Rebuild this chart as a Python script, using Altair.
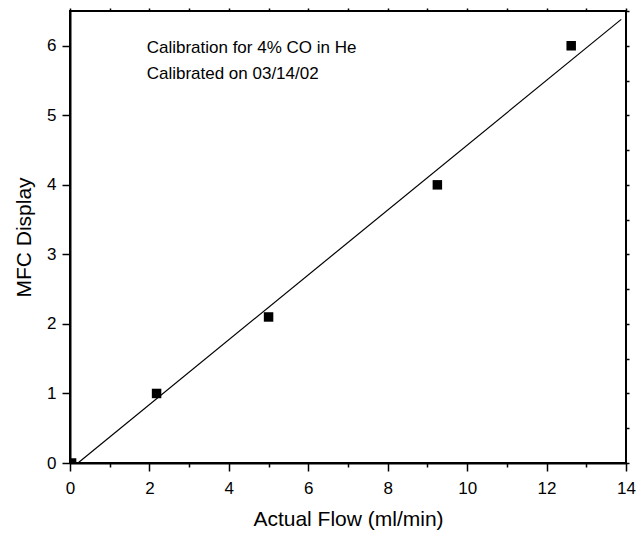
import altair as alt
import pandas as pd

# Measured calibration points
actual_flow = [0.04, 2.18, 5.0, 9.25, 12.62]
mfc_display = [0.0, 1.0, 2.1, 4.0, 6.0]

# Linear fit line endpoints
fit_flow = [0.2, 13.88]
fit_display = [0.0, 6.38]

# Annotation text
note_lines = ["Calibration for 4% CO in He", "Calibrated on 03/14/02"]
note_x = [1.93, 1.93]
note_y = [5.97, 5.6]

x_ticks = list(range(0, 15))
y_ticks = [i * 0.5 for i in range(0, 14)]

FONT = "Liberation Sans"

pts = pd.DataFrame({"flow": actual_flow, "mfc": mfc_display})
fit = pd.DataFrame({"flow": fit_flow, "mfc": fit_display})
notes = pd.DataFrame({"text": note_lines, "flow": note_x, "mfc": note_y})

xscale = alt.Scale(domain=[0, 14], nice=False, zero=False)
yscale = alt.Scale(domain=[0, 6.5], nice=False, zero=False)

x_axis = alt.Axis(
    values=x_ticks,
    format="d",
    labelExpr="datum.value % 2 === 0 ? datum.label : ''",
    tickSize={"condition": {"test": "datum.value % 2 === 0", "value": 8}, "value": 4},
    labelPadding=9,
    labelFlush=False,
    labelOverlap=False,
    title="Actual Flow (ml/min)",
    titlePadding=12,
    grid=False,
)
y_axis = alt.Axis(
    values=y_ticks,
    format="d",
    labelExpr="datum.value % 1 === 0 ? datum.label : ''",
    tickSize={"condition": {"test": "datum.value % 1 === 0", "value": 8}, "value": 4},
    labelPadding=6,
    labelFlush=False,
    labelOverlap=False,
    title="MFC Display",
    titlePadding=12,
    grid=False,
)

points = alt.Chart(pts).mark_square(size=90, color="black", opacity=1, clip=True).encode(
    x=alt.X("flow:Q", scale=xscale, axis=x_axis),
    y=alt.Y("mfc:Q", scale=yscale, axis=y_axis),
)

line = alt.Chart(fit).mark_line(color="black", strokeWidth=1.2).encode(
    x=alt.X("flow:Q", scale=xscale, axis=alt.Axis(orient="top", values=x_ticks, labels=False,
                                                 tickSize=3, domain=False, title=None, grid=False)),
    y=alt.Y("mfc:Q", scale=yscale, axis=alt.Axis(orient="right", values=y_ticks, labels=False,
                                                tickSize=3, domain=False, title=None, grid=False)),
)

text = alt.Chart(notes).mark_text(align="left", baseline="middle", font=FONT, fontSize=17,
                                  color="black").encode(
    x=alt.X("flow:Q", scale=xscale, axis=None),
    y=alt.Y("mfc:Q", scale=yscale, axis=None),
    text="text:N",
)

chart = (
    alt.layer(points, line, text)
    .resolve_axis(x="independent", y="independent")
    .properties(
        width=556,
        height=452,
        autosize=alt.AutoSizeParams(type="none"),
        padding={"left": 70, "top": 11, "right": 13, "bottom": 70},
        background="white",
    )
    .configure_view(stroke="black", strokeWidth=2)
    .configure_axis(
        domainColor="black",
        domainWidth=2,
        tickColor="black",
        tickWidth=1.5,
        labelFont=FONT,
        labelFontSize=17,
        labelColor="black",
        titleFont=FONT,
        titleFontSize=21,
        titleFontWeight="normal",
        titleColor="black",
    )
)

chart.save("out.html", embed_options={"renderer": "svg", "actions": False})
